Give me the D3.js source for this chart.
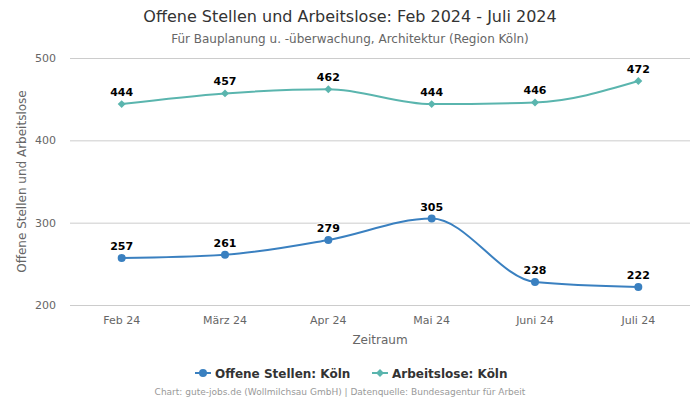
<!DOCTYPE html>
<html><head><meta charset="utf-8">
<script src="https://cdn.jsdelivr.net/npm/d3@7"></script>
<style>body{margin:0;background:#fff;font-family:"DejaVu Sans",sans-serif;}</style>
</head><body>
<svg id="c" width="700" height="400"></svg>
<script>
const categories = ["Feb 24","März 24","Apr 24","Mai 24","Juni 24","Juli 24"];
const offeneStellen = [257,261,279,305,228,222];
const arbeitslose = [444,457,462,444,446,472];
const yTicks = [200,300,400,500];

(function(){
const svg = d3.select("#c");
const pLeft=70, pRight=690, pTop=58, pBottom=305;
const x = d3.scaleBand().domain(categories).range([pLeft,pRight]);
const y = d3.scaleLinear().domain([200,500]).range([pBottom,pTop]);
const cx = d => x(d)+x.bandwidth()/2;

svg.append("text").attr("x",350).attr("y",22).attr("text-anchor","middle")
  .attr("font-size",16).attr("fill","#333").text("Offene Stellen und Arbeitslose: Feb 2024 - Juli 2024");
svg.append("text").attr("x",350).attr("y",43).attr("text-anchor","middle")
  .attr("font-size",12).attr("fill","#666").text("Für Bauplanung u. -überwachung, Architektur (Region Köln)");

const yAxis = d3.axisLeft(y).tickValues(yTicks).tickSize(-(pRight-pLeft)).tickPadding(14);
const gy = svg.append("g").attr("transform",`translate(${pLeft},0)`).call(yAxis);
gy.select(".domain").remove();
gy.selectAll("line").attr("stroke","#ccc");
gy.selectAll("text").attr("font-size",11).attr("fill","#666").attr("font-family","DejaVu Sans");

const xAxis = d3.axisBottom(x).tickSize(0).tickPadding(11);
const gx = svg.append("g").attr("transform",`translate(0,${pBottom})`).call(xAxis);
gx.select(".domain").remove();
gx.selectAll("text").attr("font-size",11).attr("fill","#666").attr("font-family","DejaVu Sans");

svg.append("text").attr("x",380).attr("y",344).attr("text-anchor","middle")
  .attr("font-size",12).attr("fill","#666").text("Zeitraum");
svg.append("text").attr("transform",`translate(26,${(pTop+pBottom)/2}) rotate(-90)`).attr("text-anchor","middle")
  .attr("font-size",12).attr("fill","#666").text("Offene Stellen und Arbeitslose");

const line = d3.line().x((d,i)=>cx(categories[i])).y(d=>y(d)).curve(d3.curveMonotoneX);

function series(vals,color,shape){
  svg.append("path").attr("d",line(vals)).attr("fill","none").attr("stroke",color).attr("stroke-width",2);
  const g = svg.append("g");
  vals.forEach((v,i)=>{
    const px=cx(categories[i]), py=y(v);
    if(shape==="circle") g.append("circle").attr("cx",px).attr("cy",py).attr("r",4).attr("fill",color);
    else g.append("path").attr("d",d3.symbol(d3.symbolDiamond2,40)()).attr("transform",`translate(${px},${py})`).attr("fill",color);
    g.append("text").attr("x",px).attr("y",py-8).attr("text-anchor","middle")
      .attr("font-size",11).attr("font-weight","bold").attr("fill","#000")
      .attr("stroke","#fff").attr("stroke-width",2).attr("paint-order","stroke").text(v);
  });
}
series(arbeitslose,"#5ab5ae","diamond");
series(offeneStellen,"#3a80c0","circle");

const leg = [["Offene Stellen: Köln","#3a80c0","circle",195],["Arbeitslose: Köln","#5ab5ae","diamond",372]];
leg.forEach(([t,c,s,lx])=>{
  const ly=373;
  svg.append("line").attr("x1",lx).attr("x2",lx+16).attr("y1",ly).attr("y2",ly).attr("stroke",c).attr("stroke-width",2);
  if(s==="circle") svg.append("circle").attr("cx",lx+8).attr("cy",ly).attr("r",4).attr("fill",c);
  else svg.append("path").attr("d",d3.symbol(d3.symbolDiamond2,40)()).attr("transform",`translate(${lx+8},${ly})`).attr("fill",c);
  svg.append("text").attr("x",lx+20).attr("y",ly+4.5).attr("font-size",12).attr("font-weight","bold").attr("fill","#333").text(t);
});
svg.append("text").attr("x",340).attr("y",395).attr("text-anchor","middle")
  .attr("font-size",9).attr("fill","#999").text("Chart: gute-jobs.de (Wollmilchsau GmbH) | Datenquelle: Bundesagentur für Arbeit");
})();
</script>
</body></html>
